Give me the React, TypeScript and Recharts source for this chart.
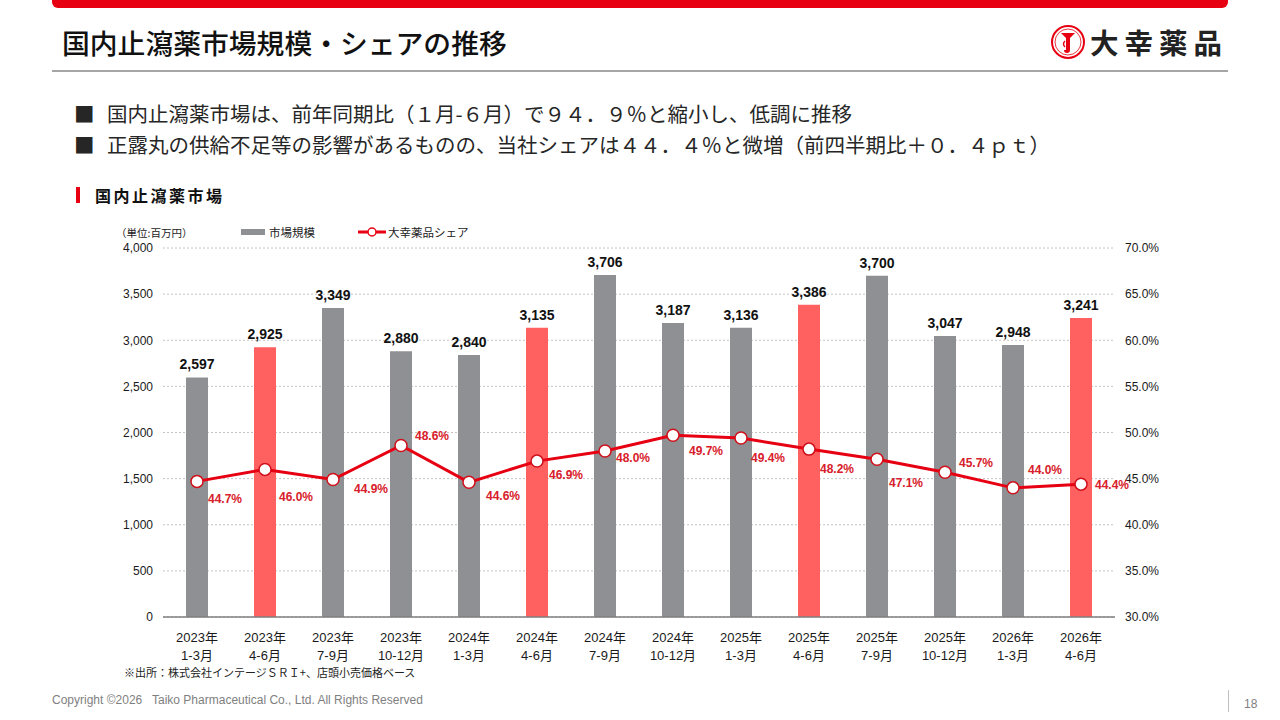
import React from "react";
import { ComposedChart, Bar, Line, XAxis, YAxis, CartesianGrid, Cell, LabelList } from "recharts";

const years = ["2023年", "2023年", "2023年", "2023年", "2024年", "2024年", "2024年", "2024年", "2025年", "2025年", "2025年", "2025年", "2026年", "2026年"];
const months = ["1-3月", "4-6月", "7-9月", "10-12月", "1-3月", "4-6月", "7-9月", "10-12月", "1-3月", "4-6月", "7-9月", "10-12月", "1-3月", "4-6月"];
const marketSize = [2597, 2925, 3349, 2880, 2840, 3135, 3706, 3187, 3136, 3386, 3700, 3047, 2948, 3241];
const share = [44.7, 46.0, 44.9, 48.6, 44.6, 46.9, 48.0, 49.7, 49.4, 48.2, 47.1, 45.7, 44.0, 44.4];
const highlight = [false, true, false, false, false, true, false, false, false, true, false, false, false, true];
const leftTicks = [0, 500, 1000, 1500, 2000, 2500, 3000, 3500, 4000];
const rightTicks = [30, 35, 40, 45, 50, 55, 60, 65, 70];

// where each share label sits relative to its point
const shareLabelOffsets = [
  [28, 18], [31, 28], [38, 9], [31, -9], [34, 14], [29, 14], [28, 7],
  [33, 16], [27, 20], [28, 20], [29, 24], [31, -9], [32, -18], [31, 1],
];

const data = marketSize.map((v, i) => ({ key: i, market: v, share: share[i] }));

const JP = '"Noto Sans CJK JP", "Noto Sans", sans-serif';
const NUM = '"Liberation Sans", Arial, "Noto Sans CJK JP", sans-serif';
const RED = "#E60012";

const XTick = (props: any) => {
  const { x, y, payload } = props;
  const i = payload.index;
  return (
    <text x={x} textAnchor="middle" fontFamily={NUM} fontSize={13} fill="#1a1a1a">
      <tspan x={x} y={y + 23}>{years[i]}</tspan>
      <tspan x={x} y={y + 41}>{months[i]}</tspan>
    </text>
  );
};

const ShareLabel = (props: any) => {
  const { x, y, value, index } = props;
  const [dx, dy] = shareLabelOffsets[index] || [30, 15];
  return (
    <text x={x + dx} y={y + dy} textAnchor="middle" dominantBaseline="central" fontFamily={NUM} fontSize={12} fontWeight="bold" fill="#D8202A">
      {Number(value).toFixed(1)}%
    </text>
  );
};

export default function App() {
  return (
    <div style={{ position: "absolute", left: 0, top: 0, width: 1280, height: 720, background: "#fff", overflow: "hidden", fontFamily: JP }}>
      <div style={{ position: "absolute", left: 52, top: 0, width: 1176, height: 8, background: RED, borderBottomLeftRadius: 6, borderBottomRightRadius: 6 }} />
      <div style={{ position: "absolute", left: 62, top: 22, fontSize: 27.8, fontWeight: 500, color: "#111", lineHeight: "40px", whiteSpace: "nowrap" }}>
        国内止瀉薬市場規模・シェアの推移
      </div>
      <svg style={{ position: "absolute", left: 1050, top: 24 }} width={36} height={36} viewBox="0 0 36 36">
        <circle cx={18} cy={18} r={16} fill="#fff" stroke={RED} strokeWidth={2} />
        <circle cx={18} cy={18} r={13} fill="none" stroke={RED} strokeWidth={0.8} />
        <path d="M11 9 L25 9 L20 14 L20 26 Q20 29 17 29 Q14 29 14 26 L16 26 L16 14 Z" fill={RED} />
        <path d="M15 17 Q12 20 15 23" fill="none" stroke={RED} strokeWidth={1.4} />
      </svg>
      <div style={{ position: "absolute", left: 1090, top: 22, fontSize: 28.5, fontWeight: 700, color: "#222", letterSpacing: 6, lineHeight: "40px", whiteSpace: "nowrap" }}>
        大幸薬品
      </div>
      <div style={{ position: "absolute", left: 52, top: 70, width: 1176, height: 2, background: "#A6A6A6" }} />

      <div style={{ position: "absolute", left: 74, top: 98, fontSize: 20.5, color: "#262626", lineHeight: "31px", whiteSpace: "nowrap" }}>
        <div><span style={{ display: "inline-block", width: 33 }}>■</span>国内止瀉薬市場は、前年同期比（１月-６月）で９４．９％と縮小し、低調に推移</div>
        <div><span style={{ display: "inline-block", width: 33 }}>■</span>正露丸の供給不足等の影響があるものの、当社シェアは４４．４％と微増（前四半期比＋０．４ｐｔ）</div>
      </div>

      <div style={{ position: "absolute", left: 76, top: 187, width: 4, height: 16, background: RED }} />
      <div style={{ position: "absolute", left: 95, top: 184, fontSize: 16, fontWeight: 700, color: "#111", lineHeight: "22px", letterSpacing: 2.5 }}>
        国内止瀉薬市場
      </div>

      <div style={{ position: "absolute", left: 116, top: 225, fontSize: 10.5, color: "#222", lineHeight: "16px" }}>（単位:百万円）</div>
      <div style={{ position: "absolute", left: 241, top: 229, width: 24, height: 6, background: "#8E9094" }} />
      <div style={{ position: "absolute", left: 269, top: 224, fontSize: 11.5, color: "#222", lineHeight: "16px" }}>市場規模</div>
      <svg style={{ position: "absolute", left: 358, top: 226 }} width={28} height={12}>
        <line x1={0} y1={6} x2={28} y2={6} stroke={RED} strokeWidth={3} />
        <circle cx={14} cy={6} r={4} fill="#fff" stroke={RED} strokeWidth={1.5} />
      </svg>
      <div style={{ position: "absolute", left: 388, top: 224, fontSize: 11.5, color: "#222", lineHeight: "16px" }}>大幸薬品シェア</div>

      <div style={{ position: "absolute", left: 0, top: 220 }}>
        <ComposedChart width={1280} height={450} data={data} margin={{ top: 28, right: 0, bottom: 0, left: 0 }}>
          <CartesianGrid yAxisId="left" vertical={false} stroke="#C4C4C4" strokeDasharray="2 2" />
          <XAxis dataKey="key" height={53} tickLine={false} tickSize={0} axisLine={{ stroke: "#7F7F7F", strokeWidth: 1.5 }} tick={<XTick />} interval={0} />
          <YAxis
            yAxisId="left"
            orientation="left"
            width={163}
            domain={[0, 4000]}
            ticks={leftTicks}
            axisLine={false}
            tickLine={false}
            tickSize={0}
            tickMargin={10}
            tickFormatter={(v: number) => v.toLocaleString("en-US")}
            tick={{ fontFamily: NUM, fontSize: 12, fill: "#1a1a1a" }}
          />
          <YAxis
            yAxisId="right"
            orientation="right"
            width={165}
            domain={[30, 70]}
            ticks={rightTicks}
            axisLine={false}
            tickLine={false}
            tickSize={0}
            tickMargin={10}
            tickFormatter={(v: number) => v.toFixed(1) + "%"}
            tick={{ fontFamily: NUM, fontSize: 12, fill: "#1a1a1a", textAnchor: "start" }}
          />
          <Bar yAxisId="left" dataKey="market" barSize={22} isAnimationActive={false}>
            {data.map((d, i) => (
              <Cell key={d.key} fill={highlight[i] ? "#FF6161" : "#8E9094"} />
            ))}
            <LabelList
              dataKey="market"
              position="top"
              offset={8}
              formatter={(v: any) => Number(v).toLocaleString("en-US")}
              style={{ fontFamily: NUM, fontSize: 14, fontWeight: "bold", fill: "#111" }}
            />
          </Bar>
          <Line
            yAxisId="right"
            type="linear"
            dataKey="share"
            stroke={RED}
            strokeWidth={3}
            dot={{ r: 6, fill: "#fff", stroke: "#D0101A", strokeWidth: 1.5 }}
            isAnimationActive={false}
          >
            <LabelList dataKey="share" content={<ShareLabel />} />
          </Line>
        </ComposedChart>
      </div>

      <div style={{ position: "absolute", left: 124, top: 664, fontSize: 11, color: "#222", lineHeight: "16px" }}>
        ※出所：株式会社インテージＳＲＩ+、店頭小売価格ベース
      </div>
      <div style={{ position: "absolute", left: 52, top: 693, fontSize: 12, color: "#7F7F7F", fontFamily: NUM, lineHeight: "14px", whiteSpace: "pre" }}>
        Copyright ©2026   Taiko Pharmaceutical Co., Ltd. All Rights Reserved
      </div>
      <div style={{ position: "absolute", left: 1228, top: 690, width: 1, height: 22, background: "#BFBFBF" }} />
      <div style={{ position: "absolute", left: 1244, top: 697, fontSize: 12, color: "#7F7F7F", fontFamily: NUM, lineHeight: "14px" }}>18</div>
    </div>
  );
}
